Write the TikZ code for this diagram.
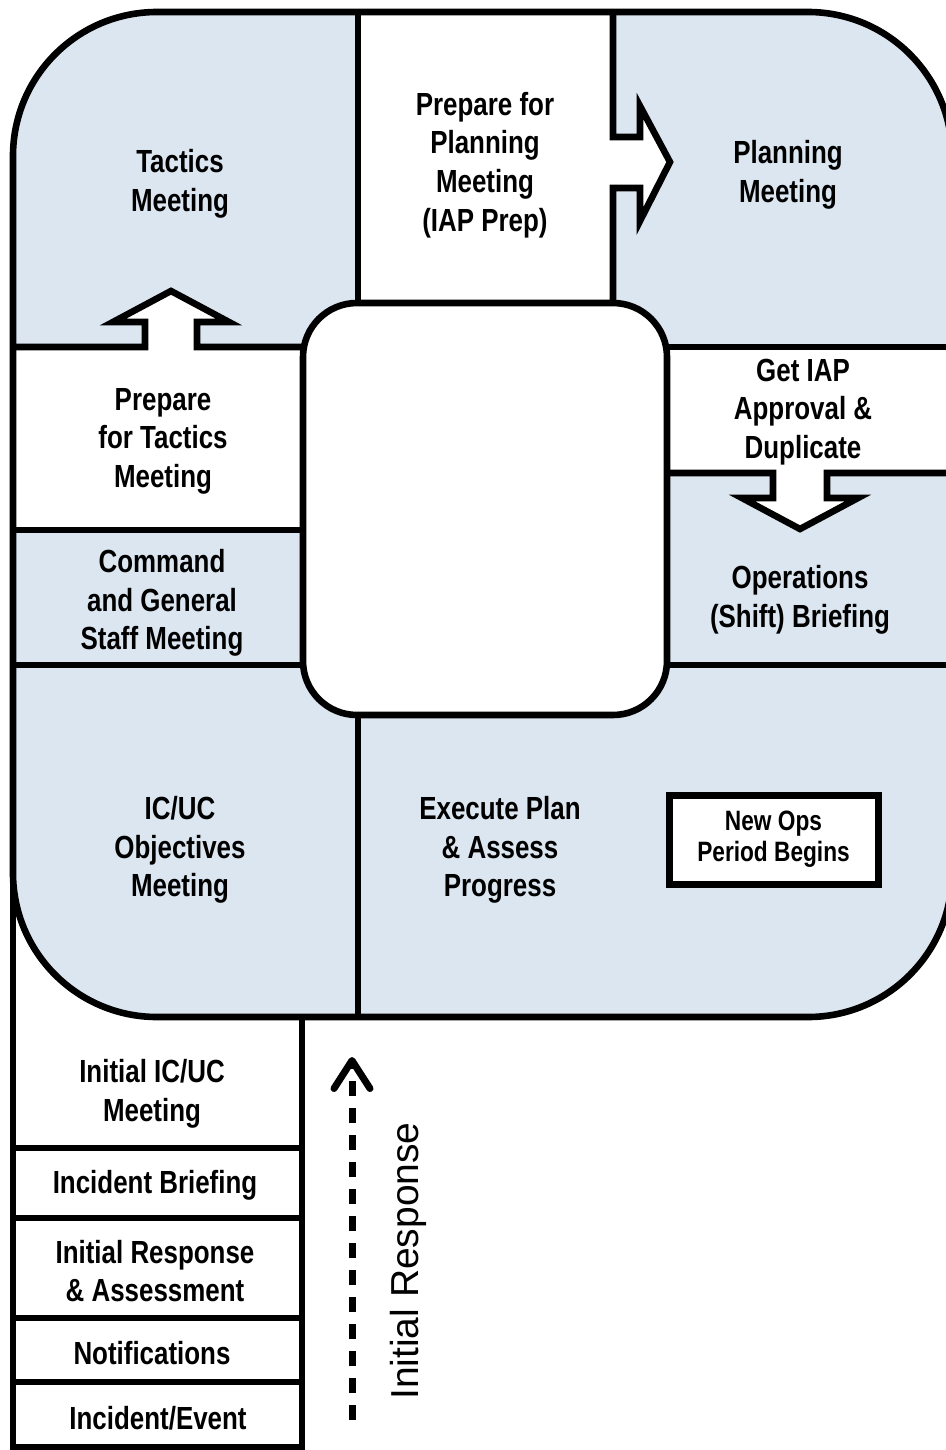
\documentclass[tikz,border=0pt]{standalone}
\usepackage{fontspec}
\setmainfont{Liberation Sans}
\newfontfamily\narrowfont[FakeStretch=0.81]{Liberation Sans}
\usetikzlibrary{arrows.meta}

\definecolor{cyclefill}{RGB}{220,230,241}

\tikzset{
  wall/.style={line width=3.3pt, line join=miter},
  phase/.style={font=\narrowfont\bfseries\fontsize{16}{19.3}\selectfont, align=center, inner sep=0pt, yshift=-1.5pt},
  smallphase/.style={font=\narrowfont\bfseries\fontsize{14}{15.5}\selectfont, align=center},
}

\begin{document}
\begin{tikzpicture}[x=0.5pt, y=-0.5pt]
    \useasboundingbox (0,0) rectangle (946,1450);
    \clip (0,0) rectangle (946,1450);

    % Blue planning cycle
    \fill[cyclefill, rounded corners=72pt] (13,12) rectangle (952,1017);

    % White prep boxes
    \fill[white] (358,12) rectangle (613,303);
    \fill[white] (13,347) rectangle (303,530);
    \fill[white] (667,347) rectangle (952,473);

    % Block arrow interiors
    \fill[white] (145,350) -- (145,322) -- (113,322) -- (171,291) -- (229,322) -- (197,322) -- (197,350) -- cycle;
    \fill[white] (610,137) -- (640,137) -- (640,106) -- (670,162) -- (640,221) -- (640,188) -- (610,188) -- cycle;
    \fill[white] (773,470) -- (773,498) -- (742,498) -- (800,529) -- (858,498) -- (827,498) -- (827,470) -- cycle;

    % Dividers, with the block arrows cut into them
    \draw[wall] (358,12) -- (358,303);
    \draw[wall] (613,12) -- (613,137) -- (640,137) -- (640,106) -- (670,162) -- (640,221) -- (640,188) -- (613,188) -- (613,303);
    \draw[wall] (13,347) -- (145,347) -- (145,322) -- (113,322) -- (171,291) -- (229,322) -- (197,322) -- (197,347) -- (303,347);
    \draw[wall] (667,473) -- (773,473) -- (773,498) -- (742,498) -- (800,529) -- (858,498) -- (827,498) -- (827,473) -- (952,473);
    \draw[wall] (667,347) -- (952,347);
    \draw[wall] (13,530) -- (303,530);
    \draw[wall] (13,665) -- (303,665);
    \draw[wall] (667,665) -- (952,665);
    \draw[wall] (358,715) -- (358,1017);

    % Outline of the cycle and the centre hole
    \draw[wall, rounded corners=72pt] (13,12) rectangle (952,1017);
    \draw[wall, fill=white, rounded corners=27pt] (303,303) rectangle (667,715);

    % Initial response stack
    \draw[wall] (13,500) -- (13,1447) -- (302,1447) -- (302,1017);
    \foreach \y in {1148,1218,1318,1382}
        \draw[wall] (13,\y) -- (302,\y);

    % Cycle labels
    \node[phase] (tactics) at (180,181) {Tactics\\Meeting};
    \node[phase] (iapprep) at (485,162) {Prepare for\\Planning\\Meeting\\(IAP Prep)};
    \node[phase] (planning) at (788,172) {Planning\\Meeting};
    \node[phase] (preptactics) at (163,438) {Prepare\\for Tactics\\Meeting};
    \node[phase] (approval) at (803,409) {Get IAP\\Approval \&\\Duplicate};
    \node[phase] (cgs) at (162,600) {Command\\and General\\Staff Meeting};
    \node[phase] (opsbrief) at (800,597) {Operations\\(Shift) Briefing};
    \node[phase] (objectives) at (180,847) {IC/UC\\Objectives\\Meeting};
    \node[phase] (execute) at (500,847) {Execute Plan\\\& Assess\\Progress};
    \node[smallphase, draw, line width=3.5pt, fill=white, minimum width=104.5pt, minimum height=44.5pt] (newops) at (773.5,839.5) {New Ops\\Period Begins};

    % Initial response labels
    \node[phase] (initmeet) at (152,1091) {Initial IC/UC\\Meeting};
    \node[phase] (incbrief) at (155,1182) {Incident Briefing};
    \node[phase] (initresp) at (155,1268) {Initial Response\\\& Assessment};
    \node[phase] (notify) at (152,1350) {Notifications};
    \node[phase] (incident) at (158,1415) {Incident/Event};

    % Initial response arrow
    \coordinate (irstart) at (352,1420);
    \coordinate (irend) at (352,1057);
    \draw[line width=3.5pt, dash pattern=on 7.5pt off 6pt,
          -{Straight Barb[length=14pt, width=18pt, line cap=round, line join=round]}] (irstart) -- (irend);
    \node[font=\fontsize{19.5}{23}\selectfont, rotate=90, anchor=base, inner sep=0pt] (irlabel) at (418,1261) {Initial Response};
\end{tikzpicture}
\end{document}
